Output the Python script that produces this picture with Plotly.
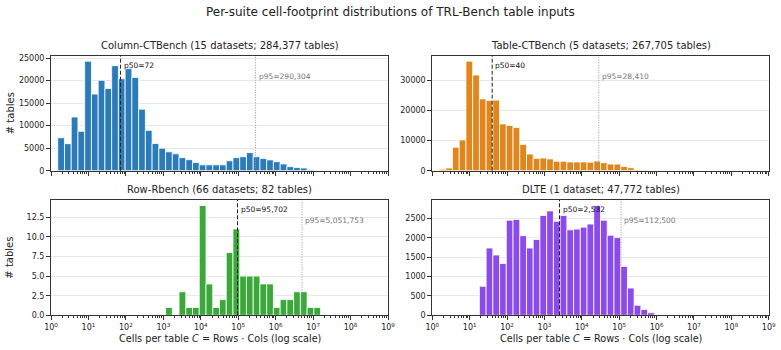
import numpy as np
import plotly.graph_objects as go

# ---------------- data ----------------
suites = ["Column-CTBench", "Table-CTBench", "Row-Rbench", "DLTE"]
n_datasets = [15, 5, 66, 1]
n_tables = [284377, 267705, 82, 47772]
p50 = [72, 40, 95702, 2532]
p95 = [290304, 28410, 5051753, 112500]

# histogram counts per log10 bin (50 bins from 10^0 to 10^9)
counts_column = [0, 7300, 6000, 11900, 8750, 24300, 17000, 20050, 18250, 23300,
                 20400, 22650, 20700, 13650, 8950, 6050, 5000, 4200, 3750, 2900,
                 2450, 1800, 1300, 1300, 1300, 1300, 2200, 2900, 3100, 4000,
                 3100, 2700, 2400, 2000, 1500, 900, 700, 600, 200, 40,
                 0, 0, 0, 0, 0, 0, 0, 0, 0, 0]
counts_table = [0, 500, 900, 7800, 10200, 36300, 31700, 23800, 23300, 23400,
                15500, 15000, 14300, 8700, 5500, 4100, 4200, 3900, 3100, 3100,
                2900, 2900, 2900, 2800, 3200, 2650, 2200, 2200, 1400, 1000,
                400, 250, 80, 0, 0, 0, 0, 0, 0, 0,
                0, 0, 0, 0, 0, 0, 0, 0, 0, 0]
counts_row = [0, 0, 0, 0, 0, 0, 0, 0, 0, 0,
              0, 0, 0, 0, 0, 0, 0, 1, 0, 3,
              1, 1, 14, 4, 1, 2, 8, 11, 5, 5,
              5, 4, 4, 1, 2, 2, 3, 3, 1, 1,
              0, 0, 0, 0, 0, 0, 0, 0, 0, 0]
counts_dlte = [0, 0, 0, 0, 0, 0, 20, 750, 1740, 1560,
               1340, 2460, 2480, 2060, 1740, 1960, 2580, 2700, 2430, 2580,
               2210, 2230, 2280, 2360, 2840, 2460, 2070, 2010, 1265, 705,
               260, 150, 65, 0, 0, 0, 0, 0, 0, 0,
               0, 0, 0, 0, 0, 0, 0, 0, 0, 0]
all_counts = [counts_column, counts_table, counts_row, counts_dlte]
colors = ["#2b7bba", "#e0861d", "#3aa93a", "#8a4bea"]

# y tick labels per panel
yticks_column = [0, 5000, 10000, 15000, 20000, 25000]
yticks_table = [0, 10000, 20000, 30000]
yticks_row = [0, 2.5, 5.0, 7.5, 10.0, 12.5]
yticks_dlte = [0, 500, 1000, 1500, 2000, 2500]
all_yticks = [yticks_column, yticks_table, yticks_row, yticks_dlte]
yticklabels = [[str(v) for v in yticks_column], [str(v) for v in yticks_table],
               ["%.1f" % v for v in yticks_row], [str(v) for v in yticks_dlte]]

# ---------------- layout geometry (paper fractions) ----------------
W, H = 781, 350
xdom = [[51 / W, 388 / W], [432.3 / W, 768.7 / W]]
ydom = [[1 - 170.7 / H, 1 - 55.7 / H], [1 - 315.3 / H, 1 - 200 / H]]

edges = np.linspace(0, 9, 51)          # log10 bin edges
centers = (edges[:-1] + edges[1:]) / 2
bw = edges[1] - edges[0]

FONT = "DejaVu Sans"
minor_vals = [d + np.log10(k) for d in range(9) for k in range(2, 10)]

fig = go.Figure()
layout = dict(template="none", width=W, height=H,
              margin=dict(l=0, r=0, t=0, b=0, pad=0, autoexpand=False),
              paper_bgcolor="white", plot_bgcolor="white", showlegend=False,
              font=dict(family=FONT, size=8, color="#222"),
              annotations=[], shapes=[])

for i in range(4):
    row, col = divmod(i, 2)
    ax = "" if i == 0 else str(i + 1)
    fig.add_trace(go.Bar(x=centers, y=all_counts[i], width=bw,
                         marker=dict(color=colors[i], line=dict(color="white", width=0.8)),
                         xaxis="x" + ax, yaxis="y" + ax, hoverinfo="skip"))
    ymax = max(all_counts[i]) * 1.05
    layout["xaxis" + ax] = dict(
        domain=xdom[col], anchor="y" + ax, range=[0, 9], showgrid=False, zeroline=False,
        automargin=False,
        showline=True, mirror=True, linecolor="#333", linewidth=1,
        ticks="outside", ticklen=4, tickcolor="#333", tickwidth=1,
        tickmode="array", tickvals=list(range(10)),
        ticktext=["10<sup>%d</sup>" % k for k in range(10)],
        showticklabels=(row == 1), tickfont=dict(size=8, color="#222"),
        minor=dict(tickmode="array", tickvals=minor_vals, ticks="outside",
                   ticklen=2, tickcolor="#333", tickwidth=0.8, showgrid=False))
    layout["yaxis" + ax] = dict(
        domain=ydom[row], anchor="x" + ax, range=[0, ymax], zeroline=False,
        automargin=False,
        showline=True, mirror=True, linecolor="#333", linewidth=1,
        ticks="outside", ticklen=4, tickcolor="#333", tickwidth=1,
        tickmode="array", tickvals=all_yticks[i], ticktext=yticklabels[i],
        showgrid=True, gridcolor="#e8e8e8", gridwidth=1,
        tickfont=dict(size=8, color="#222"))

    xr = "x" + ax
    l50, l95 = np.log10(p50[i]), np.log10(p95[i])
    layout["shapes"].append(dict(type="line", xref=xr, yref="y" + ax + " domain",
                                 x0=l50, x1=l50, y0=0, y1=1,
                                 line=dict(color="#222", width=1, dash="4px,2px")))
    layout["shapes"].append(dict(type="line", xref=xr, yref="y" + ax + " domain",
                                 x0=l95, x1=l95, y0=0, y1=1,
                                 line=dict(color="#999", width=1, dash="1px,1.5px")))
    layout["annotations"].append(dict(xref=xr, yref="y" + ax + " domain", x=l50, y=0.975,
                                      text="p50={:,}".format(p50[i]), showarrow=False,
                                      xanchor="left", yanchor="top", xshift=1,
                                      font=dict(size=7.5, color="#111")))
    layout["annotations"].append(dict(xref=xr, yref="y" + ax + " domain", x=l95, y=0.875,
                                      text="p95={:,}".format(p95[i]), showarrow=False,
                                      xanchor="left", yanchor="top", xshift=1,
                                      font=dict(size=7.5, color="#777")))
    # subplot title
    ds = "dataset" if n_datasets[i] == 1 else "datasets"
    title = "%s (%d %s; %s tables)" % (suites[i], n_datasets[i], ds, "{:,}".format(n_tables[i]))
    ty = ydom[row][1] + 10 / H
    layout["annotations"].append(dict(xref="paper", yref="paper",
                                      x=(xdom[col][0] + xdom[col][1]) / 2, y=ty,
                                      text=title, showarrow=False, xanchor="center",
                                      yanchor="middle", font=dict(size=10, color="#222")))
    if col == 0:
        layout["annotations"].append(dict(xref="paper", yref="paper", x=10 / W,
                                          y=(ydom[row][0] + ydom[row][1]) / 2,
                                          text="# tables", textangle=-90, showarrow=False,
                                          xanchor="center", yanchor="middle",
                                          font=dict(size=10, color="#222")))
    if row == 1:
        layout["annotations"].append(dict(xref="paper", yref="paper",
                                          x=(xdom[col][0] + xdom[col][1]) / 2, y=1 - 338 / H,
                                          text="Cells per table <i>C</i> = Rows \u00b7 Cols (log scale)",
                                          showarrow=False, xanchor="center", yanchor="middle",
                                          font=dict(size=9.7, color="#222")))

layout["annotations"].append(dict(xref="paper", yref="paper", x=0.5, y=1 - 12 / H,
                                  text="Per-suite cell-footprint distributions of TRL-Bench table inputs",
                                  showarrow=False, xanchor="center", yanchor="middle",
                                  font=dict(size=12, color="#222")))

fig.update_layout(**layout)
fig.write_html("out.html")
